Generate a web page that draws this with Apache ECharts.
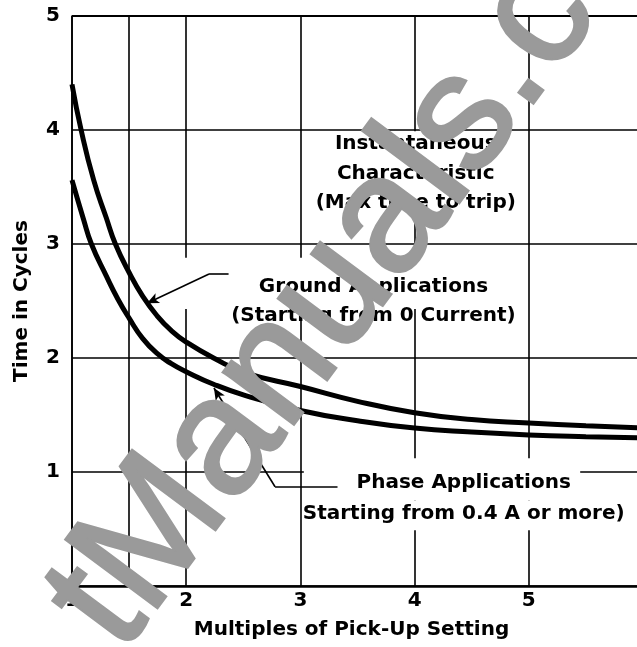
<!DOCTYPE html>
<html>
<head>
<meta charset="utf-8">
<script src="https://cdn.jsdelivr.net/npm/echarts@6/dist/echarts.min.js"></script>
<style>
html,body{margin:0;padding:0;background:#ffffff;}
#chart{width:637px;height:647px;}
</style>
</head>
<body>
<div id="chart"></div>
<script>
// ---- data ----
const groundMultiples = [1.0, 1.08, 1.19, 1.3, 1.38, 1.5, 1.62, 1.745, 1.87, 2.0, 2.24, 2.52, 3.0, 3.5, 4.0, 4.5, 5.0, 5.5, 6.0];
const groundCycles    = [4.40, 4.00, 3.56, 3.23, 3.00, 2.75, 2.54, 2.37, 2.24, 2.14, 2.00, 1.87, 1.75, 1.62, 1.52, 1.46, 1.43, 1.405, 1.385];
const phaseMultiples  = [1.0, 1.1, 1.17, 1.3, 1.4, 1.5, 1.62, 1.745, 1.87, 2.0, 2.24, 2.52, 3.0, 3.5, 4.0, 4.5, 5.0, 5.5, 6.0];
const phaseCycles     = [3.56, 3.22, 3.00, 2.72, 2.52, 2.35, 2.17, 2.04, 1.95, 1.88, 1.77, 1.67, 1.54, 1.45, 1.385, 1.35, 1.325, 1.31, 1.30];
const xTickLabels = ['1', '2', '3', '4', '5', '6'];
const yTickLabels = ['1', '2', '3', '4', '5'];
const extraVerticalGrid = [1.5];
const xAxisTitle = 'Multiples of Pick-Up Setting';
const yAxisTitle = 'Time in Cycles';
const instantLabel = ['Instantaneous', 'Characteristic', '(Max time to trip)'];
const groundLabel = ['Ground Applications', '(Starting from 0 Current)'];
const phaseLabel = ['Phase Applications', 'Starting from 0.4 A or more)'];
const watermarkText = 'tManuals.c';

const zip = (xs, ys) => xs.map((x, i) => [x, ys[i]]);
const FONT = '"DejaVu Sans", sans-serif';
const chart = echarts.init(document.getElementById('chart'), null, {renderer: 'canvas'});

const baseOption = {
  backgroundColor: '#ffffff',
  animation: false,
  grid: {left: 72, top: 16, right: -6, bottom: 61, containLabel: false, outerBoundsMode: 'none'},
  xAxis: {
    type: 'value', min: 1, max: 6, interval: 1,
    name: xAxisTitle, nameLocation: 'middle', nameGap: 34,
    nameTextStyle: {fontFamily: FONT, fontWeight: 'bold', fontSize: 20, color: '#000', padding: [0, 12, 0, 0]},
    axisLine: {show: true, onZero: false, lineStyle: {color: '#000', width: 2.6}},
    axisTick: {show: false},
    axisLabel: {margin: 5, showMaxLabel: true, showMinLabel: true, hideOverlap: false,
      fontFamily: FONT, fontWeight: 'bold', fontSize: 20, color: '#000',
      formatter: v => xTickLabels[Math.round(v) - 1] || ''},
    splitLine: {show: true, lineStyle: {color: '#000', width: 1.6}}
  },
  yAxis: {
    type: 'value', min: 0, max: 5, interval: 1,
    name: yAxisTitle, nameLocation: 'middle', nameGap: 40,
    nameTextStyle: {fontFamily: FONT, fontWeight: 'bold', fontSize: 20, color: '#000'},
    axisLine: {show: true, lineStyle: {color: '#000', width: 1.6}},
    axisTick: {show: false},
    axisLabel: {margin: 12, fontFamily: FONT, fontWeight: 'bold', fontSize: 20, color: '#000',
      formatter: v => (v === 0 ? '' : (yTickLabels[Math.round(v) - 1] || ''))},
    splitLine: {show: true, lineStyle: {color: '#000', width: 1.6}}
  },
  series: [
    {
      name: 'Ground Applications', type: 'line', data: zip(groundMultiples, groundCycles),
      smooth: 0.5, showSymbol: false, z: 3,
      lineStyle: {color: '#000', width: 5},
      markLine: {
        silent: true, animation: false, symbol: ['none', 'none'],
        label: {show: false},
        lineStyle: {color: '#000', width: 1.6, type: 'solid'},
        data: [
          [{coord: [2.371, 2.737]}, {coord: [2.20, 2.737]}],
          [{coord: [2.20, 2.737], symbol: 'none'}, {coord: [1.657, 2.48], symbol: 'arrow', symbolSize: [8, 12]}],
          [{coord: [extraVerticalGrid[0], 0]}, {coord: [extraVerticalGrid[0], 5]}],
          [{coord: [1, 5]}, {coord: [6, 5], lineStyle: {width: 2.2}}]
        ]
      }
    },
    {
      name: 'Phase Applications', type: 'line', data: zip(phaseMultiples, phaseCycles),
      smooth: 0.5, showSymbol: false, z: 3,
      lineStyle: {color: '#000', width: 5},
      markLine: {
        silent: true, animation: false, symbol: ['none', 'none'],
        label: {show: false},
        lineStyle: {color: '#000', width: 1.6, type: 'solid'},
        data: [
          [{coord: [3.325, 0.871]}, {coord: [2.778, 0.871]}],
          [{coord: [2.778, 0.871], symbol: 'none'}, {coord: [2.243, 1.737], symbol: 'arrow', symbolSize: [8, 12]}]
        ]
      }
    }
  ]
};
chart.setOption(baseOption);

// ---- annotations placed in data coordinates ----
const px = (x, y) => chart.convertToPixel({gridIndex: 0}, [x, y]);
function maskRect(x0, y0, x1, y1) {
  const a = px(x0, y0), b = px(x1, y1);
  return {type: 'rect', z: 1, silent: true,
    shape: {x: Math.min(a[0], b[0]), y: Math.min(a[1], b[1]), width: Math.abs(b[0] - a[0]), height: Math.abs(b[1] - a[1])},
    style: {fill: '#ffffff'}};
}
function label(lines, x, y, lh) {
  const p = px(x, y);
  return {type: 'text', z: 5, silent: true, x: p[0], y: p[1],
    style: {text: lines.join('\n'), font: 'bold 20px ' + FONT, fill: '#000',
      align: 'center', verticalAlign: 'middle', lineHeight: lh}};
}
const graphics = [
  maskRect(3.05, 3.99, 4.96, 3.26),
  maskRect(1.93, 2.88, 4.92, 2.43),
  maskRect(3.03, 1.12, 5.45, 0.75),
  maskRect(3.03, 0.75, 6.0, 0.49),
  label(instantLabel, 4.01, 3.62, 29.5),
  label(groundLabel, 3.64, 2.5, 29),
  label([phaseLabel[0]], 4.43, 0.905, 24),
  label([phaseLabel[1]], 4.43, 0.633, 24)
];

// watermark (grey, multiplied over the figure)
const ang = 53.3 * Math.PI / 180;
graphics.push({
  type: 'text', z: 50, silent: true, x: 85, y: 628, rotation: ang,
  style: {text: watermarkText, font: 'normal 166px "Liberation Sans", Arial, sans-serif',
    fill: '#9a9a9a', stroke: '#9a9a9a', lineWidth: 3, align: 'left', verticalAlign: 'middle', blend: 'multiply'}
});
chart.setOption({graphic: graphics});
</script>
</body>
</html>
